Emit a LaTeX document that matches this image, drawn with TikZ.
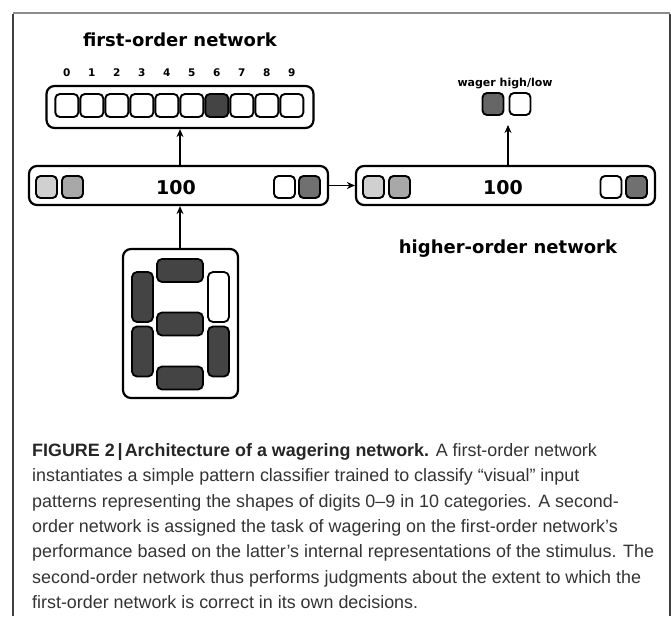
\documentclass[tikz,border=0pt]{standalone}
\usepackage{fontspec}
\setmainfont{Liberation Sans}
\newfontfamily\lblfont{DejaVu Sans}
\usetikzlibrary{arrows.meta}
\definecolor{captxt}{HTML}{333333}
\definecolor{cdark}{HTML}{444444}
\definecolor{clight}{HTML}{D0D0D0}
\definecolor{cmid}{HTML}{A8A8A8}
\definecolor{cgrey}{HTML}{707070}
\definecolor{cwager}{HTML}{666666}
\tikzset{
  bar/.style={draw, line width=2.2pt, rounded corners=8pt, fill=white, inner sep=0pt},
  cell/.style={draw, line width=1.9pt, rounded corners=4.5pt, minimum width=21pt, minimum height=22pt, inner sep=0pt},
  ocell/.style={cell, minimum width=23pt, minimum height=23pt},
  hseg/.style={draw, line width=1.8pt, rounded corners=5pt, minimum width=46pt, minimum height=23pt, inner sep=0pt, fill=cdark},
  vseg/.style={draw, line width=1.8pt, rounded corners=5pt, minimum width=21pt, minimum height=50pt, inner sep=0pt, fill=cdark},
  arr/.style={-{Stealth[length=8pt,width=7pt]}, line width=1.9pt},
  title/.style={font=\lblfont\bfseries\fontsize{18}{20}\selectfont, inner sep=0pt, anchor=base},
  digit/.style={font=\lblfont\bfseries\fontsize{10.5}{12}\selectfont, inner sep=0pt, anchor=base},
  hund/.style={font=\lblfont\bfseries\fontsize{19}{21}\selectfont, inner sep=0pt, anchor=base},
  capline/.style={font=\fontsize{17.9}{20}\selectfont, text=captxt, inner sep=0pt, anchor=base west},
}
\begin{document}
\begin{tikzpicture}[x=1pt,y=-1pt]
\useasboundingbox (0,0) rectangle (671,616);
% frame
\draw[line width=1.3pt, black!45] (13,13) -- (670,13);
\draw[line width=1.3pt, black!75] (13,616) -- (13,13.6);
\draw[line width=1.3pt, black!75] (670,13.6) -- (670,616);

% first-order title
\node[title] (t1) at (180,46.5) {first-order network};
% output layer
\node[bar, minimum width=267pt, minimum height=42pt] (out) at (180,107) {};
\foreach \i in {0,...,9} {
  \pgfmathsetmacro{\cx}{66.8+25*\i}
  \ifnum\i=6
    \node[ocell, fill=cdark] (o\i) at (\cx,105.5) {};
  \else
    \node[ocell, fill=white] (o\i) at (\cx,105.5) {};
  \fi
  \node[digit] (d\i) at (\cx,76) {\i};
}

% hidden layer 1
\node[bar, minimum width=299pt, minimum height=39pt] (hid1) at (178.5,185.5) {};
\node[cell, fill=clight] (h1a) at (46.5,187) {};
\node[cell, fill=cmid] (h1b) at (72.5,187) {};
\node[cell, fill=white] (h1c) at (284.5,187) {};
\node[cell, fill=cgrey] (h1d) at (309.5,187) {};
\node[hund] (n1) at (176,194.3) {100};

% hidden layer 2
\node[bar, minimum width=299pt, minimum height=39pt] (hid2) at (505.5,185.5) {};
\node[cell, fill=clight] (h2a) at (373.5,187) {};
\node[cell, fill=cmid] (h2b) at (399.5,187) {};
\node[cell, fill=white] (h2c) at (611,187) {};
\node[cell, fill=cgrey] (h2d) at (636.5,187) {};
\node[hund] (n2) at (503,194.3) {100};

% wager units
\node[digit, font=\lblfont\bfseries\fontsize{11}{12}\selectfont] (wl) at (505,86) {wager high/low};
\node[cell, fill=cwager] (w1) at (493,104) {};
\node[cell, fill=white] (w2) at (520,104) {};
\coordinate (wtip) at (508,125);

\node[title] (t2) at (508,253) {higher-order network};

% digit input box
\node[bar, minimum width=115pt, minimum height=149pt] (dig) at (180.5,323.5) {};
\node[hseg] (sa) at (180,270.5) {};
\node[vseg] (sf) at (142.5,297) {};
\node[vseg, fill=white] (sb) at (218.5,297) {};
\node[hseg] (sg) at (180,324) {};
\node[vseg] (se) at (142.5,351.5) {};
\node[vseg] (sc) at (218.5,351.5) {};
\node[hseg] (sd) at (180,378) {};

% connectors
\draw[arr] (hid1.north -| out.south) -- (out.south);
\draw[arr] (dig.north -| out.south) -- (hid1.south -| out.south);
\draw[arr] (hid1.east) -- (hid2.west);
\draw[arr] (wtip |- hid2.north) -- (wtip);

% caption
\node[capline] (c1) at (32,456.3) {{\color{black!85}\bfseries FIGURE 2\kern3pt|\kern2pt Architecture of a wagering network.} A first-order network};
\node[capline] (c2) at (32,481.7) {instantiates a simple pattern classifier trained to classify “visual” input};
\node[capline] (c3) at (32,507.1) {patterns representing the shapes of digits 0–9 in 10 categories. A second-};
\node[capline] (c4) at (32,532.5) {order network is assigned the task of wagering on the first-order network’s};
\node[capline] (c5) at (32,557.9) {performance based on the latter’s internal representations of the stimulus. The};
\node[capline] (c6) at (32,583.3) {second-order network thus performs judgments about the extent to which the};
\node[capline] (c7) at (32,608.7) {first-order network is correct in its own decisions.};
\end{tikzpicture}
\end{document}
